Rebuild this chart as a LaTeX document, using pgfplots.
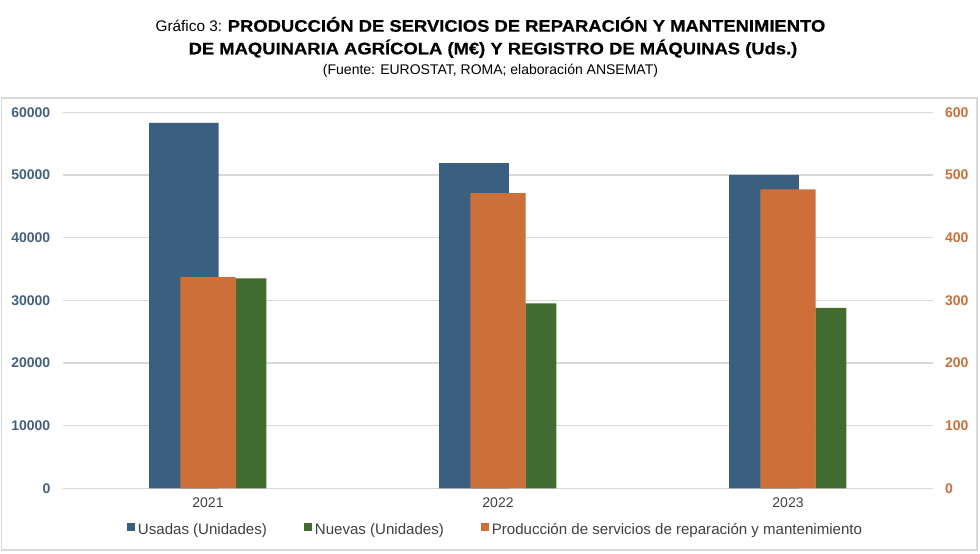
\documentclass[border=0pt]{standalone}
\usepackage{fontspec}
\setmainfont{Liberation Sans}
\newfontfamily\titlefont[FakeStretch=1.105,FakeBold=0.6]{Liberation Sans}
\usepackage{pgfplots}
\pgfplotsset{compat=1.18}
\definecolor{cblue}{RGB}{59,95,127}
\definecolor{corange}{RGB}{205,111,56}
\definecolor{cgreen}{RGB}{66,107,48}
\definecolor{ctickL}{RGB}{68,96,127}
\definecolor{ctickR}{RGB}{200,112,58}
\definecolor{cgrid}{RGB}{217,217,217}
\definecolor{ctext}{RGB}{64,64,64}
\begin{document}
\begin{tikzpicture}[x=0.75pt,y=0.75pt]
\useasboundingbox (0,0) rectangle (980,553);
\draw[cgrid, line width=1.2pt] (1.5,3) rectangle (977,455);
\node[anchor=base, inner sep=0pt] at (490.5,521.3)
  {{\fontsize{11.5}{13}\selectfont Gráfico 3: }{\titlefont\bfseries\fontsize{12.5}{14}\selectfont PRODUCCIÓN DE SERVICIOS DE REPARACIÓN Y MANTENIMIENTO}};
\node[anchor=base, inner sep=0pt, font=\titlefont\fontsize{12.5}{14}\selectfont\bfseries] at (493,498.7)
  {DE MAQUINARIA AGRÍCOLA (M€) Y REGISTRO DE MÁQUINAS (Uds.)};
\node[anchor=base, inner sep=0pt, font=\fontsize{10.5}{12}\selectfont] at (490.5,478)
  {(Fuente: EUROSTAT, ROMA; elaboración ANSEMAT)};

\begin{axis}[
  at={(47.25pt,48.525pt)}, anchor=south west,
  scale only axis, width=652.5pt, height=282pt,
  xmin=-0.5, xmax=2.5, ymin=0, ymax=60000,
  xtick={0,1,2}, xticklabels={2021,2022,2023},
  ytick={0,10000,...,60000},
  scaled y ticks=false,
  ymajorgrids, grid style={cgrid, line width=1pt},
  axis line style={draw=none}, major tick length=0pt,
  axis y line*=left, axis x line*=bottom,
  yticklabel style={font=\bfseries\fontsize{10.5}{12}\selectfont, text=ctickL,
    /pgf/number format/1000 sep={}, /pgf/number format/assume math mode=true, xshift=-6pt},
  xticklabel style={font=\fontsize{10.5}{12}\selectfont, text=ctext, yshift=-3.5pt},
  legend columns=3,
  legend image code/.code={\fill[#1] (0pt,-0.5pt) rectangle (5.5pt,5pt);},
  legend style={at={(0.0736,-0.111)}, anchor=west, draw=none, fill=none, inner sep=0pt,
    font=\fontsize{11.3}{13}\selectfont, text=ctext,
    nodes={inner sep=0pt},
    /tikz/every odd column/.append style={column sep=2.5pt},
    /tikz/every even column/.append style={column sep=28pt}},
]
\addplot[ybar, bar width=0.2397, bar shift=-0.0828, fill=cblue, draw=none]
  coordinates {(0,58300) (1,51900) (2,50000)};
\addlegendentry{Usadas (Unidades)}
\addplot[ybar, bar width=0.107, bar shift=0.148, fill=cgreen, draw=none]
  coordinates {(0,33500) (1,29500) (2,28800)};
\addlegendentry{Nuevas (Unidades)}
\addlegendimage{fill=corange, draw=none}
\addlegendentry{Producción de servicios de reparación y mantenimiento}
\end{axis}

\begin{axis}[
  at={(47.25pt,48.525pt)}, anchor=south west,
  scale only axis, width=652.5pt, height=282pt,
  xmin=-0.5, xmax=2.5, ymin=0, ymax=600,
  axis y line*=right, axis x line=none,
  ytick={0,100,...,600},
  axis line style={draw=none}, major tick length=0pt,
  yticklabel style={font=\bfseries\fontsize{10.5}{12}\selectfont, text=ctickR,
    /pgf/number format/assume math mode=true, xshift=5.5pt},
]
\addplot[ybar, bar width=0.19, bar shift=0, fill=corange, draw=none]
  coordinates {(0,337) (1,471) (2,477)};
\end{axis}
\end{tikzpicture}
\end{document}
